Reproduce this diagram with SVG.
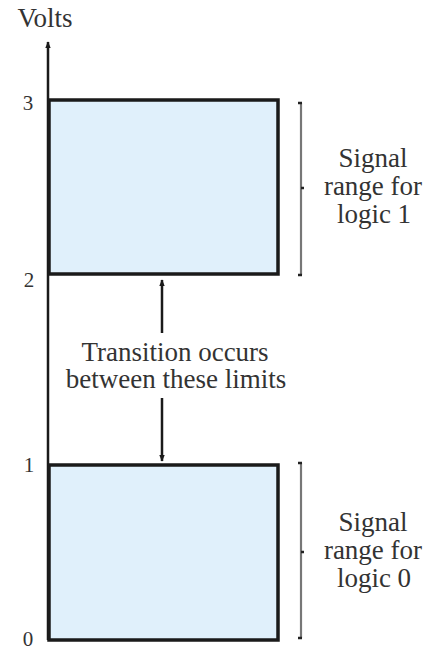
<svg xmlns="http://www.w3.org/2000/svg" width="427" height="650" viewBox="0 0 427 650">
<style>
text{font-family:"Liberation Serif","Times New Roman",serif;fill:#333;}
.lbl{font-size:27px;text-anchor:middle;}
.tick{font-size:21px;text-anchor:middle;}
.box{fill:#e0f0fb;stroke:#1a1a1a;stroke-width:3.5;}
.brace{fill:none;stroke:#777;stroke-width:2.2;}
.conn{stroke:#1a1a1a;stroke-width:2.5;fill:none;}
</style>
<defs>
<marker id="ah" viewBox="0 0 10 10" refX="9" refY="5" markerWidth="7" markerHeight="7" markerUnits="userSpaceOnUse" orient="auto">
<path d="M0,1 L10,5 L0,9 z" fill="#1a1a1a"/>
</marker>
</defs>
<g id="axis">
<line x1="48" y1="640" x2="48" y2="42" class="conn" stroke-width="3.5" marker-end="url(#ah)"/>
<text x="45" y="27" class="lbl" font-size="24">Volts</text>
<text x="28" y="110" class="tick">3</text>
<text x="29" y="287" class="tick">2</text>
<text x="29" y="472" class="tick">1</text>
<text x="28" y="646" class="tick">0</text>
</g>
<g id="logic1">
<rect x="49" y="100" width="229" height="174" class="box"/>
</g>
<g id="logic0">
<rect x="49" y="465" width="229" height="175" class="box"/>
</g>
<g id="brace1">
<path d="M301,103 L301,275" class="brace"/>
<path d="M298,103 L302,103 M298,275 L302,275 M301,188 L304,188" stroke="#222" stroke-width="2.5"/>
<text x="373" y="167" class="lbl">Signal</text>
<text x="373" y="195" class="lbl">range for</text>
<text x="374" y="223" class="lbl">logic 1</text>
</g>
<g id="brace0">
<path d="M301,463 L301,638" class="brace"/>
<path d="M298,463 L302,463 M298,638 L302,638 M301,552 L304,552" stroke="#222" stroke-width="2.5"/>
<text x="373" y="531" class="lbl">Signal</text>
<text x="373" y="559" class="lbl">range for</text>
<text x="374" y="587" class="lbl">logic 0</text>
</g>
<g id="transition">
<text x="175" y="361" class="lbl" font-size="26">Transition occurs</text>
<text x="176" y="388" class="lbl" font-size="26">between these limits</text>
</g>
<g id="connectors">
<line x1="162" y1="333" x2="162" y2="280" class="conn" marker-end="url(#ah)"/>
<line x1="162" y1="398" x2="162" y2="461" class="conn" marker-end="url(#ah)"/>
</g>
</svg>
